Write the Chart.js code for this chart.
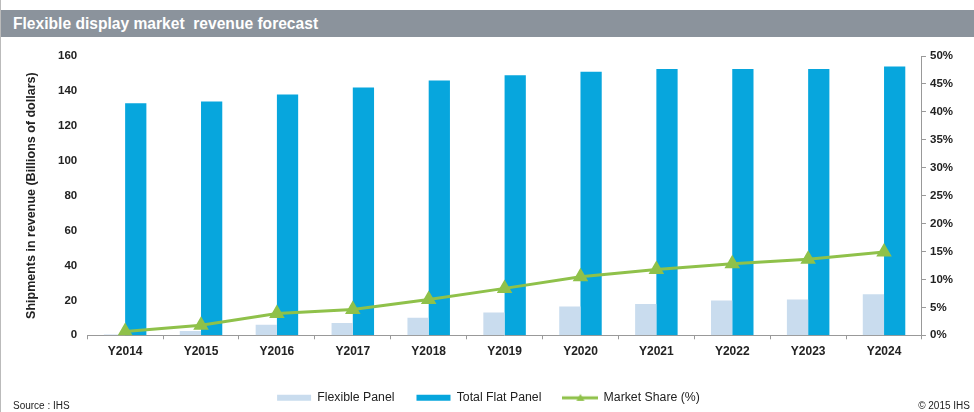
<!DOCTYPE html>
<html>
<head>
<meta charset="utf-8">
<script src="https://cdn.jsdelivr.net/npm/chart.js@4/dist/chart.umd.min.js"></script>
<style>
  body { margin: 0; background: #fff; font-family: "Liberation Sans", Arial, sans-serif; }
  #frame { position: relative; width: 974px; height: 412px; border-left: 1px solid #bbb; box-sizing: border-box; overflow: hidden; }
  #titulo { position: absolute; left: 0; top: 10px; width: 974px; height: 27px; background: #8b939c;
            color: #fff; font-weight: bold; font-size: 15.6px; line-height: 27px; padding-left: 12px; box-sizing: border-box; }
  #caixa { position: absolute; left: 0; top: 37px; width: 974px; height: 379px; }
  .rodape { position: absolute; top: 400px; font-size: 10px; color: #222; }
</style>
</head>
<body>
<div id="frame">
  <div id="titulo">Flexible display market&nbsp; revenue forecast</div>
  <div id="caixa"><canvas id="graficoReceita" width="974" height="379"></canvas></div>
  <div class="rodape" style="left:12px">Source : IHS</div>
  <div class="rodape" style="right:4px">© 2015 IHS</div>
</div>
<script>
var anos = ['Y2014', 'Y2015', 'Y2016', 'Y2017', 'Y2018', 'Y2019', 'Y2020', 'Y2021', 'Y2022', 'Y2023', 'Y2024'];
var painelFlexivel = [0.5, 2.5, 6, 7, 10, 13, 16.5, 18, 20, 20.5, 23.5];
var painelPlanoTotal = [133, 134, 138, 142, 146, 149, 151, 152.5, 152.5, 152.5, 154];
var participacao = [0.7, 1.8, 3.9, 4.6, 6.4, 8.4, 10.5, 11.8, 12.8, 13.6, 14.9];
var ticksEsquerda = [0, 20, 40, 60, 80, 100, 120, 140, 160];
var ticksDireita = [0, 5, 10, 15, 20, 25, 30, 35, 40, 45, 50];

var verde = '#8fc14a';
var fonteTick = { family: 'Liberation Sans', size: 11.5, weight: 'bold' };

/* Ícone da legenda para a linha: traço com triângulo no meio */
var iconeLinha = document.createElement('canvas');
iconeLinha.width = 36;
iconeLinha.height = 12;
(function() {
  var c = iconeLinha.getContext('2d');
  c.strokeStyle = verde;
  c.lineWidth = 3;
  c.beginPath(); c.moveTo(0, 6); c.lineTo(36, 6); c.stroke();
  c.fillStyle = verde;
  c.beginPath(); c.moveTo(18, 2); c.lineTo(22, 9); c.lineTo(14, 9); c.closePath(); c.fill();
})();

/* Canvas do gráfico */
var ctx = document.getElementById('graficoReceita').getContext('2d');
var grafico = new Chart(ctx, {
  type: 'bar',
  data: {
    labels: anos,
    datasets: [{
      label: 'Flexible Panel',
      data: painelFlexivel,
      backgroundColor: '#c9dcee',
      categoryPercentage: 0.56,
      barPercentage: 1,
      order: 1
    }, {
      label: 'Total Flat Panel',
      data: painelPlanoTotal,
      backgroundColor: '#07a6dd',
      categoryPercentage: 0.56,
      barPercentage: 1,
      order: 1
    }, {
      type: 'line',
      label: 'Market Share (%)',
      data: participacao,
      yAxisID: 'y2',
      borderColor: verde,
      backgroundColor: verde,
      borderWidth: 3,
      pointStyle: 'triangle',
      pointRadius: 6,
      pointBackgroundColor: verde,
      tension: 0,
      order: 0
    }]
  },
  options: {
    responsive: false,
    animation: false,
    layout: { padding: { top: 19, right: 18, left: 19, bottom: 2 } },
    plugins: {
      legend: {
        position: 'bottom',
        labels: {
          usePointStyle: true,
          pointStyleWidth: 34,
          boxHeight: 6,
          padding: 22,
          color: '#222',
          font: { family: 'Liberation Sans', size: 12.3 },
          sort: function(a, b) { return a.datasetIndex - b.datasetIndex; },
          generateLabels: function(chart) {
            var itens = Chart.defaults.plugins.legend.labels.generateLabels(chart);
            itens.forEach(function(item) {
              item.pointStyle = item.datasetIndex === 2 ? iconeLinha : 'rect';
              item.lineWidth = 0;
            });
            return itens;
          }
        }
      },
      tooltip: { enabled: false }
    },
    scales: {
      x: {
        grid: { display: true, drawOnChartArea: false, drawTicks: true, tickLength: 4, color: '#999', offset: true },
        border: { color: '#999' },
        ticks: { color: '#222', font: { family: 'Liberation Sans', size: 12, weight: 'bold' }, padding: 5, maxRotation: 0 },
        afterFit: function(eixo) { eixo.height += 6; }
      },
      y: {
        min: 0, max: 160,
        afterBuildTicks: function(eixo) { eixo.ticks = ticksEsquerda.map(function(v) { return { value: v }; }); },
        grid: { display: false },
        border: { display: false },
        ticks: { color: '#222', font: fonteTick, padding: 2 },
        title: {
          display: true,
          text: 'Shipments in revenue (Billions of dollars)',
          color: '#222',
          font: { family: 'Liberation Sans', size: 12.5, weight: 'bold' },
          padding: { bottom: 17 }
        }
      },
      y2: {
        position: 'right',
        min: 0, max: 50,
        afterBuildTicks: function(eixo) { eixo.ticks = ticksDireita.map(function(v) { return { value: v }; }); },
        grid: { display: true, drawOnChartArea: false, drawTicks: true, tickLength: 4, color: '#999' },
        border: { color: '#999' },
        ticks: { color: '#222', font: fonteTick, padding: 4, callback: function(v) { return v + '%'; } }
      }
    }
  }
});
</script>
</body>
</html>
